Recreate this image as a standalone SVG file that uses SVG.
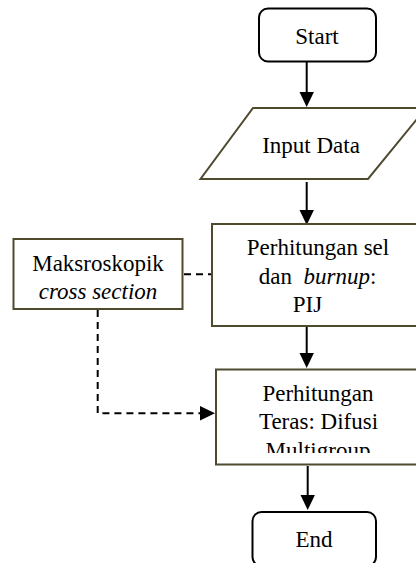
<svg xmlns="http://www.w3.org/2000/svg" width="416" height="563" viewBox="0 0 416 563">
<style>
.t{font-family:"Liberation Serif","Times New Roman",serif;font-size:23px;fill:#000;text-anchor:middle}
.i{font-style:italic}
.term{fill:#fff;stroke:#000;stroke-width:2}
.box{fill:#fff;stroke:#4f4a2e;stroke-width:2}
.ln{fill:none;stroke:#000;stroke-width:2}
.dash{fill:none;stroke:#000;stroke-width:2;stroke-dasharray:7 5}
</style>
<defs>
<clipPath id="c1"><rect x="13" y="239" width="170" height="62"/></clipPath>
<clipPath id="c2"><rect x="216" y="369" width="210" height="84"/></clipPath>
</defs>
<rect width="416" height="563" fill="#fff"/>
<g id="connectors">
<path class="ln" d="M306.7,62 V92"/>
<path d="M299.5,92 L313.9,92 L306.7,107 z" fill="#000"/>
<path class="ln" d="M306.7,182 V210"/>
<path d="M299.5,210 L313.9,210 L306.7,225 z" fill="#000"/>
<path class="ln" d="M306.7,327 V353"/>
<path d="M299.5,353 L313.9,353 L306.7,368 z" fill="#000"/>
<path class="ln" d="M307.7,466 V495"/>
<path d="M300.5,495 L314.9,495 L307.7,510 z" fill="#000"/>
<path class="dash" d="M184,274.3 H212"/>
<path class="dash" d="M97.7,310 V413.3 H201"/>
<path d="M200,406 L200,420.6 L215,413.3 z" fill="#000"/>
</g>
<g id="start">
<rect class="term" x="259" y="8.5" width="117" height="53" rx="9"/>
<text class="t" x="317" y="43.5">Start</text>
</g>
<g id="input">
<path class="box" d="M253,108 L426,108 L368,179 L200.5,179 z"/>
<text class="t" x="311" y="153">Input Data</text>
</g>
<g id="pij">
<rect class="box" x="212" y="224" width="214" height="102"/>
<text class="t" x="318" y="255">Perhitungan sel</text>
<text class="t" x="317.5" y="284">dan&#160; <tspan class="i">burnup</tspan>:</text>
<text class="t" x="307.5" y="312">PIJ</text>
</g>
<g id="makro">
<rect class="box" x="13.5" y="239" width="169" height="70"/>
<g clip-path="url(#c1)">
<text class="t" x="98" y="271">Maksroskopik</text>
<text class="t i" x="98" y="299">cross section</text>
</g>
</g>
<g id="teras">
<rect class="box" x="216" y="369.5" width="210" height="95"/>
<g clip-path="url(#c2)">
<text class="t" x="318" y="401">Perhitungan</text>
<text class="t" x="318.5" y="429">Teras: Difusi</text>
<text class="t" x="318" y="458">Multigroup</text>
</g>
</g>
<g id="end">
<rect class="term" x="252.5" y="512" width="123.5" height="54" rx="9"/>
<text class="t" x="314" y="547">End</text>
</g>
</svg>
